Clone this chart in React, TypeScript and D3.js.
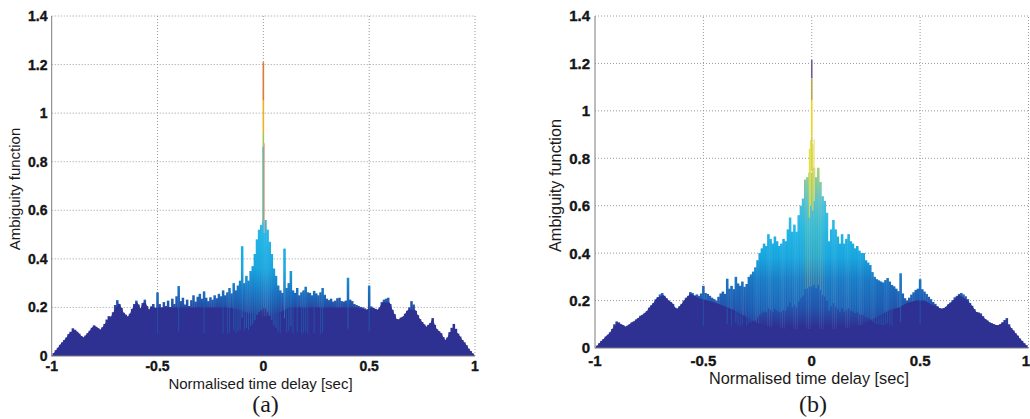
import React from 'react';
import * as d3 from 'd3';

// ---------- axis ticks ----------
const xTickValues = [-1, -0.5, 0, 0.5, 1];
const xTickLabels = ['-1', '-0.5', '0', '0.5', '1'];
const yTickValues = [0, 0.2, 0.4, 0.6, 0.8, 1, 1.2, 1.4];
const yTickLabels = ['0', '0.2', '0.4', '0.6', '0.8', '1', '1.2', '1.4'];

// ---------- panel (a): spike tops, 0.01 s grid from -1 to 1 ----------
const topA = [
  0, 0.012, 0.024, 0.034, 0.046, 0.056, 0.066, 0.076, 0.09, 0.1,
  0.114, 0.108, 0.1, 0.092, 0.082, 0.076, 0.084, 0.094, 0.104, 0.116,
  0.126, 0.12, 0.114, 0.108, 0.118, 0.132, 0.15, 0.164, 0.162, 0.18,
  0.21, 0.23, 0.214, 0.198, 0.178, 0.17, 0.162, 0.174, 0.194, 0.214,
  0.228, 0.212, 0.196, 0.218, 0.232, 0.206, 0.19, 0.204, 0.214, 0.198,
  0.262, 0.214, 0.2, 0.222, 0.206, 0.228, 0.202, 0.236, 0.214, 0.246,
  0.288, 0.226, 0.24, 0.212, 0.232, 0.206, 0.23, 0.25, 0.224, 0.244,
  0.256, 0.236, 0.266, 0.24, 0.226, 0.242, 0.232, 0.25, 0.238, 0.256,
  0.246, 0.27, 0.25, 0.262, 0.28, 0.258, 0.3, 0.27, 0.29, 0.31,
  0.452, 0.3, 0.33, 0.31, 0.35, 0.37, 0.42, 0.48, 0.52, 0.54,
  0.56,
  0.56, 0.52, 0.47, 0.42, 0.36, 0.33, 0.29, 0.27, 0.26, 0.442,
  0.28, 0.3, 0.35, 0.27, 0.26, 0.28, 0.25, 0.262, 0.27, 0.285,
  0.262, 0.26, 0.25, 0.268, 0.258, 0.25, 0.262, 0.28, 0.252, 0.236,
  0.23, 0.236, 0.224, 0.228, 0.238, 0.24, 0.226, 0.224, 0.228, 0.322,
  0.232, 0.226, 0.214, 0.21, 0.206, 0.202, 0.2, 0.196, 0.19, 0.29,
  0.204, 0.198, 0.194, 0.19, 0.2, 0.222, 0.232, 0.236, 0.24, 0.214,
  0.19, 0.172, 0.152, 0.15, 0.158, 0.162, 0.174, 0.186, 0.2, 0.226,
  0.212, 0.186, 0.168, 0.152, 0.14, 0.13, 0.12, 0.128, 0.136, 0.156,
  0.128, 0.11, 0.102, 0.094, 0.078, 0.066, 0.076, 0.098, 0.116, 0.132,
  0.112, 0.092, 0.08, 0.066, 0.056, 0.044, 0.03, 0.02, 0.01, 0,
];
// panel (a): height of the dark base layer, 0.04 s grid
const baseA = [
  0, 0.05, 0.095, 0.105, 0.09, 0.13, 0.12, 0.165, 0.22, 0.17,
  0.22, 0.22, 0.2, 0.2, 0.2, 0.2, 0.2, 0.2, 0.2, 0.2,
  0.2, 0.2, 0.19, 0.18, 0.17, 0.16, 0.17, 0.18, 0.2, 0.2,
  0.2, 0.2, 0.2, 0.2, 0.2, 0.2, 0.2, 0.19, 0.2, 0.22,
  0.22, 0.16, 0.19, 0.19, 0.135, 0.15, 0.1, 0.1, 0.095, 0.05, 0,
];
// main peak of (a): band limits from top to bottom
const peakA = [1.21, 1.054, 0.917, 0.862, 0.56];
// thin side lines of (a): delay, top, bottom
const sideDelayA = [-0.003, 0.004];
const sideTopA = [0.862, 0.876];
const sideBottomA = [0.55, 0.506];

// ---------- panel (b) ----------
const topB = [
  0, 0.01, 0.02, 0.03, 0.038, 0.048, 0.056, 0.066, 0.08, 0.1,
  0.112, 0.108, 0.1, 0.096, 0.09, 0.094, 0.1, 0.108, 0.112, 0.12,
  0.126, 0.136, 0.14, 0.148, 0.156, 0.17, 0.18, 0.19, 0.205, 0.215,
  0.226, 0.232, 0.22, 0.21, 0.2, 0.194, 0.186, 0.17, 0.166, 0.176,
  0.186, 0.2, 0.212, 0.22, 0.236, 0.232, 0.222, 0.226, 0.22, 0.23,
  0.262, 0.232, 0.228, 0.22, 0.212, 0.206, 0.2, 0.216, 0.23, 0.238,
  0.228, 0.292, 0.25, 0.262, 0.248, 0.3, 0.272, 0.262, 0.28, 0.258,
  0.27, 0.3, 0.31, 0.322, 0.34, 0.37, 0.4, 0.42, 0.44, 0.43,
  0.48, 0.46, 0.44, 0.47, 0.45, 0.43, 0.44, 0.46, 0.45, 0.5,
  0.55, 0.49, 0.52, 0.49, 0.56, 0.6, 0.63, 0.71, 0.72, 0.74,
  0.74,
  0.76, 0.72, 0.76, 0.7, 0.64, 0.62, 0.57, 0.45, 0.5, 0.54,
  0.5, 0.47, 0.44, 0.48, 0.44, 0.46, 0.48, 0.45, 0.44, 0.42,
  0.43, 0.41, 0.4, 0.4, 0.37, 0.36, 0.35, 0.32, 0.3, 0.29,
  0.285, 0.28, 0.276, 0.286, 0.295, 0.28, 0.266, 0.26, 0.25, 0.24,
  0.315, 0.23, 0.21, 0.2, 0.212, 0.225, 0.235, 0.245, 0.25, 0.29,
  0.248, 0.238, 0.228, 0.216, 0.206, 0.194, 0.186, 0.176, 0.168, 0.166,
  0.168, 0.174, 0.184, 0.192, 0.202, 0.214, 0.22, 0.228, 0.232, 0.226,
  0.218, 0.206, 0.19, 0.178, 0.164, 0.152, 0.15, 0.146, 0.134, 0.122,
  0.116, 0.108, 0.104, 0.1, 0.097, 0.096, 0.1, 0.108, 0.118, 0.126,
  0.1, 0.084, 0.074, 0.062, 0.052, 0.04, 0.03, 0.02, 0.012, 0,
];
const baseB = [
  0, 0.045, 0.085, 0.105, 0.105, 0.13, 0.16, 0.21, 0.225, 0.19,
  0.19, 0.23, 0.21, 0.2, 0.19, 0.175, 0.16, 0.14, 0.12, 0.1,
  0.09, 0.085, 0.08, 0.08, 0.08, 0.08, 0.08, 0.08, 0.08, 0.085,
  0.09, 0.1, 0.12, 0.14, 0.16, 0.17, 0.19, 0.2, 0.2, 0.18,
  0.17, 0.19, 0.225, 0.2, 0.155, 0.125, 0.105, 0.11, 0.09, 0.045, 0,
];
const peakB = [1.215, 1.137, 1.046, 0.891, 0.75];
const sideDelayB = [-0.011, -0.005, 0.005, 0.011];
const sideTopB = [0.84, 0.877, 0.86, 0.88];
const sideBottomB = [0.55, 0.6, 0.58, 0.62];

// ---------- styles ----------
const NAVY = '#2e3192';
const peakColorsA = ['#dc7a38', '#ebb428', '#9fc95e', '#2aa0dc'];
const sideColorsA = ['#8fd08e', '#f1a185'];
const peakColorsB = ['#6f5b95', '#b5a84c', '#f3d41c', '#cbd34c'];
const sideColorsB = ['#dcdc48', '#eedc3c', '#d8d850', '#f0e070'];
const gradStopsA: [number, string][] = [
  [0, NAVY], [0.165, NAVY], [0.22, '#2157ad'], [0.28, '#1b76c4'], [0.36, '#17a2dc'],
  [0.5, '#1fb5e8'], [0.62, '#50c3d6'], [0.74, '#a7cf7c'], [0.85, '#e8d83a'], [1.4, '#f2cf22'],
];
const gradStopsB: [number, string][] = [
  [0, NAVY], [0.09, NAVY], [0.17, '#2255ad'], [0.29, '#1b72c0'], [0.38, '#17a2dc'],
  [0.5, '#22b6e6'], [0.62, '#4ec0dc'], [0.74, '#9ccf86'], [0.85, '#eedb30'], [1.4, '#f2cf22'],
];
const heightColor = d3
  .scaleLinear<string>()
  .domain([0, 0.15, 0.24, 0.32, 0.42, 0.6, 0.7, 0.8, 0.9])
  .range(['#2e3192', '#2b45a2', '#1f63b6', '#1890d4', '#1cb2e8', '#3cbfe2', '#8ccc9a', '#d6d44a', '#f0d828'])
  .clamp(true);

const SANS = "Arial, 'Liberation Sans', Helvetica, sans-serif";
const SERIF = "'Times New Roman', 'Liberation Serif', serif";

type PanelProps = {
  id: string;
  xr: [number, number];
  yr: [number, number];
  top: number[];
  base: number[];
  gradStops: [number, string][];
  peak: number[];
  peakColors: string[];
  sideDelay: number[];
  sideTop: number[];
  sideBottom: number[];
  sideColors: string[];
  tickFont: number;
  yLabelRight: number;
  xLabelBaseline: number;
  lastLabelEnd?: number;
  titleFont: number;
  xTitleX: number;
  xTitleY: number;
  yTitleX: number;
  yTitleY: number;
  caption: string;
  captionX: number;
};

function Panel(p: PanelProps) {
  const x = d3.scaleLinear().domain([-1, 1]).range(p.xr);
  const y = d3.scaleLinear().domain([0, 1.4]).range(p.yr);
  const fine = p.top.map((v, i) => ({ t: -1 + i * 0.01, v }));
  const coarseBase = p.base.map((v, i) => ({ t: -1 + i * 0.04, v }));
  const area = d3
    .area<{ t: number; v: number }>()
    .x((d) => x(d.t))
    .y0(y(0))
    .y1((d) => y(d.v));
  const step = x(-0.99) - x(-1);
  const clipId = `clip-${p.id}`;
  const gradId = `grad-${p.id}`;
  const tickStyle = { paintOrder: 'stroke' } as React.CSSProperties;
  return (
    <g>
      <defs>
        <clipPath id={clipId}>
          <path d={area(fine) || ''} />
        </clipPath>
        <linearGradient id={gradId} gradientUnits="userSpaceOnUse" x1={0} x2={0} y1={y(0)} y2={y(1.4)}>
          {p.gradStops.map(([z, c], i) => (
            <stop key={i} offset={z / 1.4} stopColor={c} />
          ))}
        </linearGradient>
      </defs>
      {/* grid */}
      {yTickValues.slice(1).map((v) => (
        <line key={'gy' + v} x1={x(-1)} x2={x(1)} y1={y(v)} y2={y(v)} stroke="#9a9a9a" strokeWidth={1} strokeDasharray="1,2" />
      ))}
      {xTickValues.slice(1).map((v) => (
        <line key={'gx' + v} x1={x(v)} x2={x(v)} y1={y(0)} y2={y(1.4)} stroke="#9a9a9a" strokeWidth={1} strokeDasharray="1,2" />
      ))}
      {/* spikes coloured by height */}
      {fine.map((d, i) => (
        <rect key={'b' + i} x={x(d.t) - step / 2 - 0.2} width={step + 0.4} y={y(d.v)} height={y(0) - y(d.v)} fill={`url(#${gradId})`} />
      ))}
      <path d={area(coarseBase) || ''} fill={NAVY} clipPath={`url(#${clipId})`} />
      {/* streaks of the taller spikes */}
      {fine
        .filter((d) => d.v > 0.26)
        .map((d, i) => (
          <line key={'s' + i} x1={x(d.t)} x2={x(d.t)} y1={y(d.v)} y2={y(d.v * 0.35)} stroke={heightColor(d.v)} strokeWidth={0.9} opacity={0.5} />
        ))}
      {/* main peak */}
      {p.peakColors.map((c, i) => (
        <line key={'pk' + i} x1={x(0)} x2={x(0)} y1={y(p.peak[i])} y2={y(p.peak[i + 1])} stroke={c} strokeWidth={1.6} />
      ))}
      {p.sideDelay.map((t, i) => (
        <line key={'sd' + i} x1={x(t)} x2={x(t)} y1={y(p.sideTop[i])} y2={y(p.sideBottom[i])} stroke={p.sideColors[i]} strokeWidth={1.1} />
      ))}
      {/* axes */}
      <line x1={x(-1)} x2={x(-1)} y1={y(0) + 0.5} y2={y(1.4)} stroke="#7d7d7d" strokeWidth={1} />
      <line x1={x(-1)} x2={x(1)} y1={y(0)} y2={y(0)} stroke="#7d7d7d" strokeWidth={1} />
      {yTickValues.map((v, i) => (
        <text key={'yl' + v} x={p.yLabelRight} y={y(v)} dy="0.36em" textAnchor="end" fontFamily={SANS} fontWeight={700} fontSize={p.tickFont} fill="#151515" stroke="#151515" strokeWidth={0.35} style={tickStyle}>
          {yTickLabels[i]}
        </text>
      ))}
      {xTickValues.map((v, i) => {
        const last = i === xTickValues.length - 1 && p.lastLabelEnd !== undefined;
        return (
          <text key={'xl' + v} x={last ? p.lastLabelEnd : x(v)} y={p.xLabelBaseline} textAnchor={last ? 'end' : 'middle'} fontFamily={SANS} fontWeight={700} fontSize={p.tickFont} fill="#151515" stroke="#151515" strokeWidth={0.35} style={tickStyle}>
            {xTickLabels[i]}
          </text>
        );
      })}
      <text x={p.xTitleX} y={p.xTitleY} textAnchor="middle" fontFamily={SANS} fontSize={p.titleFont} fill="#1a1a1a">
        Normalised time delay [sec]
      </text>
      <text transform={`translate(${p.yTitleX},${p.yTitleY}) rotate(-90)`} textAnchor="middle" fontFamily={SANS} fontSize={p.titleFont} fill="#1a1a1a">
        Ambiguity function
      </text>
      <text x={p.captionX} y={412} textAnchor="middle" fontFamily={SERIF} fontSize={24} fill="#1a1a1a">
        {p.caption}
      </text>
    </g>
  );
}

export default function App() {
  return (
    <svg width={1030} height={419} style={{ position: 'absolute', left: 0, top: 0, background: '#fff' }}>
      <rect width={1030} height={419} fill="#fff" />
      <Panel
        id="a"
        xr={[51.7, 475]}
        yr={[356, 16]}
        top={topA}
        base={baseA}
        gradStops={gradStopsA}
        peak={peakA}
        peakColors={peakColorsA}
        sideDelay={sideDelayA}
        sideTop={sideTopA}
        sideBottom={sideBottomA}
        sideColors={sideColorsA}
        tickFont={14}
        yLabelRight={47.5}
        xLabelBaseline={371}
        titleFont={15}
        xTitleX={260.5}
        xTitleY={389}
        yTitleX={20}
        yTitleY={189}
        caption="(a)"
        captionX={265.5}
      />
      <Panel
        id="b"
        xr={[595, 1028.5]}
        yr={[348, 16]}
        top={topB}
        base={baseB}
        gradStops={gradStopsB}
        peak={peakB}
        peakColors={peakColorsB}
        sideDelay={sideDelayB}
        sideTop={sideTopB}
        sideBottom={sideBottomB}
        sideColors={sideColorsB}
        tickFont={15}
        yLabelRight={590}
        xLabelBaseline={365.5}
        lastLabelEnd={1030}
        titleFont={16.3}
        xTitleX={809}
        xTitleY={384}
        yTitleX={561}
        yTitleY={185.5}
        caption="(b)"
        captionX={813}
      />
    </svg>
  );
}
